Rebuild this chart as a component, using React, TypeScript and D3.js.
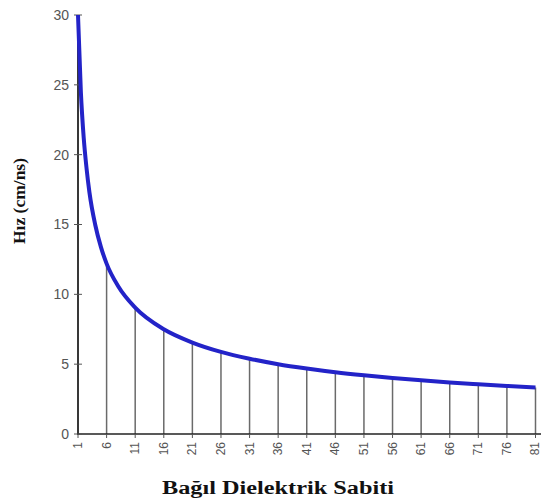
import React from "react";
import * as d3 from "d3";

const xPoints = [1, 1.5, 2, 2.5, 3, 4, 5, 6, 8, 11, 16, 21, 26, 31, 36, 41, 46, 51, 56, 61, 66, 71, 76, 81];
const yPoints = [30, 24.5, 21.2, 19, 17.3, 15, 13.4, 12.2, 10.6, 9.05, 7.5, 6.55, 5.88, 5.39, 5.0, 4.69, 4.42, 4.2, 4.01, 3.84, 3.69, 3.56, 3.44, 3.33];
const xTicks = [1, 6, 11, 16, 21, 26, 31, 36, 41, 46, 51, 56, 61, 66, 71, 76, 81];
const tickValues = [30, 12.2, 9.05, 7.5, 6.55, 5.88, 5.39, 5.0, 4.69, 4.42, 4.2, 4.01, 3.84, 3.69, 3.56, 3.44, 3.33];
const yTicks = [0, 5, 10, 15, 20, 25, 30];
const xTitle = "Bağıl Dielektrik Sabiti";
const yTitle = "Hız (cm/ns)";

export default function App() {
  const W = 541, H = 504;
  const x = d3.scaleLinear().domain([1, 81]).range([78, 535.5]);
  const y = d3.scaleLinear().domain([0, 30]).range([434, 15]);
  const line = d3
    .line<number>()
    .x((_, i) => x(xPoints[i]))
    .y((d) => y(d))
    .curve(d3.curveMonotoneX);
  return (
    <svg width={W} height={H} style={{ position: "absolute", left: 0, top: 0, background: "#fff" }}>
      {xTicks.map((t, i) => (
        <line key={"v" + t} x1={x(t)} x2={x(t)} y1={y(0)} y2={y(tickValues[i])} stroke="#6a6a6a" strokeWidth={1.5} />
      ))}
      <line x1={x(1)} x2={x(1)} y1={y(0) + 1} y2={y(30)} stroke="#222" strokeWidth={1.6} />
      <line x1={x(1) - 1} x2={W} y1={y(0)} y2={y(0)} stroke="#222" strokeWidth={1.6} />
      {yTicks.map((t) => (
        <g key={"y" + t}>
          <line x1={x(1) - 4} x2={x(1) + 4} y1={y(t)} y2={y(t)} stroke="#555" strokeWidth={1} />
          <text x={x(1) - 9} y={y(t)} dy="0.35em" textAnchor="end" fontFamily="Liberation Sans, Arial, sans-serif" fontSize={14} fill="#555">
            {t}
          </text>
        </g>
      ))}
      {xTicks.map((t) => (
        <g key={"x" + t}>
          <line x1={x(t)} x2={x(t)} y1={y(0)} y2={y(0) + 4} stroke="#555" strokeWidth={1} />
          <text
            transform={`translate(${x(t)},${y(0) + 8}) rotate(-90)`}
            dy="0.33em"
            textAnchor="end"
            fontFamily="Liberation Sans, Arial, sans-serif"
            fontSize={12}
            fill="#555"
          >
            {t}
          </text>
        </g>
      ))}
      <path d={line(yPoints) || ""} fill="none" stroke="#2323c8" strokeWidth={4} />
      <text
        x={278}
        y={494}
        textAnchor="middle"
        fontFamily="Liberation Serif, Times New Roman, serif"
        fontWeight="bold"
        fontSize={18}
        fill="#111"
        textLength={232}
        lengthAdjust="spacingAndGlyphs"
      >
        {xTitle}
      </text>
      <text
        transform="translate(25,201) rotate(-90)"
        textAnchor="middle"
        fontFamily="Liberation Serif, Times New Roman, serif"
        fontWeight="bold"
        fontSize={16}
        fill="#111"
        textLength={86}
        lengthAdjust="spacingAndGlyphs"
      >
        {yTitle}
      </text>
    </svg>
  );
}
